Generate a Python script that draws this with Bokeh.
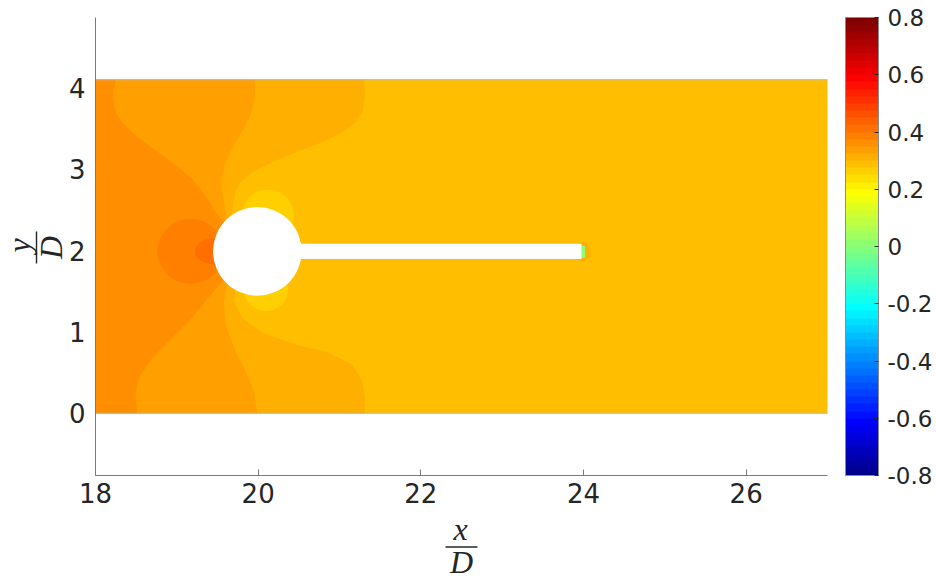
import math
from bokeh.plotting import figure
from bokeh.models import (Range1d, LinearColorMapper, ColorBar, FixedTicker,
                          ColumnDataSource, Label, LinearAxis)
from bokeh.embed import file_html
from bokeh.resources import INLINE

# ---------------- geometry (lengths in units of D) ----------------
DOMAIN_X = [18.0, 27.0]
DOMAIN_Y = [0.0, 4.1]
CYL_CENTER = [19.99, 1.99]
CYL_RADIUS = 0.545
PLATE_X = [19.99, 23.975]
PLATE_Y = [1.895, 2.085]

# ---------------- iso-level boundaries: x position at each y ----------------
# boundary between the 0.35 and 0.375 regions (upstream-most contour)
A_TOP_Y = [4.10, 3.906, 3.701, 3.578, 3.455, 3.291, 3.085, 2.880, 2.675, 2.470, 2.34]
A_TOP_X = [18.25, 18.213, 18.246, 18.328, 18.451, 18.656, 18.943, 19.189, 19.353, 19.476, 19.58]
A_BOT_Y = [1.65, 1.379, 1.173, 0.927, 0.681, 0.435, 0.230, 0.0]
A_BOT_X = [19.58, 19.353, 19.189, 18.943, 18.697, 18.533, 18.492, 18.513]

# boundary between the 0.325 and 0.35 regions
B_TOP_Y = [4.10, 3.906, 3.701, 3.496, 3.291, 3.085, 2.880, 2.675, 2.470, 2.36]
B_TOP_X = [19.96, 19.96, 19.919, 19.824, 19.70, 19.60, 19.55, 19.566, 19.60, 19.60]
B_BOT_Y = [1.61, 1.379, 1.091, 0.763, 0.517, 0.271, 0.0]
B_BOT_X = [19.62, 19.578, 19.599, 19.722, 19.845, 19.948, 19.99]

# boundary between the 0.3 and 0.325 regions
C_TOP_Y = [4.10, 3.906, 3.701, 3.578, 3.455, 3.332, 3.208, 3.085, 2.962, 2.839, 2.716, 2.593, 2.47, 2.38]
C_TOP_X = [21.30, 21.313, 21.28, 21.198, 21.034, 20.788, 20.46, 20.173, 19.927, 19.784, 19.722, 19.70, 19.68, 19.66]
C_BOT_Y = [1.53, 1.379, 1.173, 0.989, 0.845, 0.743, 0.599, 0.394, 0.189, 0.0]
C_BOT_X = [19.72, 19.702, 19.804, 20.05, 20.46, 20.87, 21.157, 21.28, 21.313, 21.313]

# field value inside each region
LEVEL_FAR = 0.2875     # downstream field
LEVEL_C = 0.3125       # left of boundary C
LEVEL_B = 0.3375       # left of boundary B
LEVEL_A = 0.3625       # left of boundary A

# closed iso-regions: stagnation rings, shoulder suction lobes, plate tip
LOBE_X = [19.17, 19.45, 20.12, 20.095, 23.99]
LOBE_Y = [1.99, 1.99, 2.43, 1.53, 1.985]
LOBE_W = [0.82, 0.46, 0.64, 0.55, 0.20]
LOBE_H = [0.80, 0.32, 0.64, 0.55, 0.24]
LOBE_LEVEL = [0.3875, 0.4125, 0.2625, 0.2625, 0.3125]

TIP_X = [23.965, 24.02]
TIP_Y = [1.91, 2.06]
TIP_LEVEL = 0.0125

# ---------------- axes ----------------
X_AXIS = [18.0, 27.0]
Y_AXIS = [-0.765, 4.865]
X_TICKS = [18, 20, 22, 24, 26]
Y_TICKS = [0, 1, 2, 3, 4]
CB_TICKS = [-0.8, -0.6, -0.4, -0.2, 0.0, 0.2, 0.4, 0.6, 0.8]
CB_LABELS = ["-0.8", "-0.6", "-0.4", "-0.2", "0", "0.2", "0.4", "0.6", "0.8"]
C_LOW, C_HIGH = -0.8, 0.8

# page layout in pixels: the axes box sits at these margins
W, H = 936, 581
LEFT, RIGHT, TOP, BOTTOM = 95, 109, 17, 106
KX = (W - LEFT - RIGHT) / (X_AXIS[1] - X_AXIS[0])
KY = (H - TOP - BOTTOM) / (Y_AXIS[1] - Y_AXIS[0])
X_VIEW = [X_AXIS[0] - LEFT / KX, X_AXIS[1] + RIGHT / KX]
Y_VIEW = [Y_AXIS[0] - BOTTOM / KY, Y_AXIS[1] + TOP / KY]
INK = "#262626"
AXIS_GREY = "#7a7a7a"


def jet(m=64):
    """MATLAB-style jet colormap with m entries."""
    n = math.ceil(m / 4)
    u = [i / n for i in range(1, n + 1)] + [1.0] * (n - 1) + [i / n for i in range(n, 0, -1)]
    g0 = math.ceil(n / 2) - (1 if m % 4 == 1 else 0)
    r, g, b = [0.0] * m, [0.0] * m, [0.0] * m
    for k, val in enumerate(u):
        gi = g0 + k + 1
        if 1 <= gi <= m:
            g[gi - 1] = val
        if 1 <= gi + n <= m:
            r[gi + n - 1] = val
        if 1 <= gi - n <= m:
            b[gi - n - 1] = val
    return ["#%02x%02x%02x" % (int(rr * 255 + 0.5), int(gg * 255 + 0.5), int(bb * 255 + 0.5))
            for rr, gg, bb in zip(r, g, b)]


def sx(px):
    """page pixel column -> x coordinate"""
    return X_VIEW[0] + px / KX


def sy(py):
    """page pixel row -> y coordinate"""
    return Y_VIEW[1] - py / KY


mapper = LinearColorMapper(palette=jet(64), low=C_LOW, high=C_HIGH)
fill = {"field": "level", "transform": mapper}

p = figure(width=W, height=H, output_backend="svg", toolbar_location=None,
           x_range=Range1d(*X_VIEW), y_range=Range1d(*Y_VIEW),
           x_axis_type=None, y_axis_type=None,
           min_border=0)
p.outline_line_color = None
p.grid.visible = False
p.background_fill_color = "white"
p.border_fill_color = "white"

# downstream field over the whole domain
far_src = ColumnDataSource(dict(l=[DOMAIN_X[0]], r=[DOMAIN_X[1]], b=[DOMAIN_Y[0]], t=[DOMAIN_Y[1]],
                                level=[LEVEL_FAR]))
p.quad(left="l", right="r", bottom="b", top="t", source=far_src, fill_color=fill, line_color=None)


def region_left_of(top_x, top_y, bot_x, bot_y):
    xs = [DOMAIN_X[0]] + top_x + [CYL_CENTER[0]] + bot_x + [DOMAIN_X[0]]
    ys = [DOMAIN_Y[1]] + top_y + [CYL_CENTER[1]] + bot_y + [DOMAIN_Y[0]]
    return xs, ys


regions = [region_left_of(C_TOP_X, C_TOP_Y, C_BOT_X, C_BOT_Y),
           region_left_of(B_TOP_X, B_TOP_Y, B_BOT_X, B_BOT_Y),
           region_left_of(A_TOP_X, A_TOP_Y, A_BOT_X, A_BOT_Y)]
band_src = ColumnDataSource(dict(xs=[r[0] for r in regions], ys=[r[1] for r in regions],
                                 level=[LEVEL_C, LEVEL_B, LEVEL_A]))
p.patches("xs", "ys", source=band_src, fill_color=fill, line_color=None)

lobe_src = ColumnDataSource(dict(x=LOBE_X, y=LOBE_Y, w=LOBE_W, h=LOBE_H, level=LOBE_LEVEL))
p.ellipse("x", "y", width="w", height="h", source=lobe_src, fill_color=fill, line_color=None)

tip_src = ColumnDataSource(dict(l=[TIP_X[0]], r=[TIP_X[1]], b=[TIP_Y[0]], t=[TIP_Y[1]], level=[TIP_LEVEL]))
p.quad(left="l", right="r", bottom="b", top="t", source=tip_src, fill_color=fill, line_color=None)

# solid body: cylinder and splitter plate
p.ellipse(x=[CYL_CENTER[0]], y=[CYL_CENTER[1]], width=[2 * CYL_RADIUS], height=[2 * CYL_RADIUS],
          fill_color="white", line_color=None)
p.quad(left=[PLATE_X[0]], right=[PLATE_X[1]], bottom=[PLATE_Y[0]], top=[PLATE_Y[1]],
       fill_color="white", line_color=None)

# domain top / bottom edges
for yy in DOMAIN_Y:
    p.line(x=DOMAIN_X, y=[yy, yy], line_color="#b4b4bc", line_width=1)

# axes pinned to the lower-left corner of the axes box
xax = LinearAxis(fixed_location=Y_AXIS[0], bounds=tuple(X_AXIS), ticker=FixedTicker(ticks=X_TICKS))
yax = LinearAxis(fixed_location=X_AXIS[0], bounds=tuple(Y_AXIS), ticker=FixedTicker(ticks=Y_TICKS))
for ax in (xax, yax):
    ax.axis_line_color = AXIS_GREY
    ax.major_tick_line_color = AXIS_GREY
    ax.minor_tick_line_color = None
    ax.major_label_text_font = "DejaVu Sans"
    ax.major_label_text_font_size = "26px"
    ax.major_label_text_color = INK
    ax.major_tick_out = 0
xax.major_tick_in = 6
yax.major_tick_in = 0
xax.major_label_standoff = 7
yax.major_label_standoff = 10
p.add_layout(xax, "below")
p.add_layout(yax, "left")

# colour bar
cb = ColorBar(color_mapper=mapper, ticker=FixedTicker(ticks=CB_TICKS),
              major_label_overrides=dict(zip(CB_TICKS, CB_LABELS)),
              width=33, height=H - TOP - BOTTOM, padding=0, margin=0,
              location=(W - RIGHT + 18, BOTTOM),
              bar_line_color="#8c8c8c", bar_line_width=1,
              major_label_text_font="DejaVu Sans", major_label_text_font_size="23px",
              major_label_text_color=INK, label_standoff=9,
              major_tick_line_color=INK, major_tick_in=4, major_tick_out=0,
              minor_tick_line_color=None,
              background_fill_color=None, border_line_color=None)
p.add_layout(cb)

# axis titles written as fractions x/D and y/D
MATH = dict(text_font="Liberation Serif", text_font_style="italic", text_font_size="32px",
            text_color=INK, text_align="center", text_baseline="alphabetic")
p.add_layout(Label(x=sx(460), y=sy(528), text="x", **MATH))
p.add_layout(Label(x=sx(461), y=sy(561), text="D", **MATH))
p.line(x=[sx(445), sx(477)], y=[sy(546.5), sy(546.5)], line_color=INK, line_width=1.4)

p.add_layout(Label(x=sx(18), y=sy(245), text="y", angle=math.pi / 2, **MATH))
p.add_layout(Label(x=sx(50), y=sy(247), text="D", angle=math.pi / 2, **MATH))
p.line(x=[sx(36), sx(36)], y=[sy(231), sy(263)], line_color=INK, line_width=1.4)

open("out.html", "w").write(file_html(p, INLINE))
